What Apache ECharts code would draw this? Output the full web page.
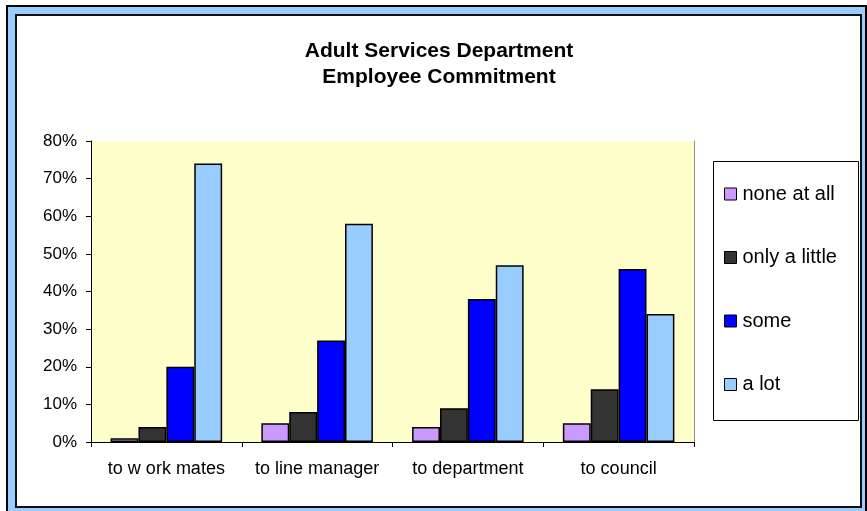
<!DOCTYPE html>
<html>
<head>
<meta charset="utf-8">
<title>Adult Services Department - Employee Commitment</title>
<script src="https://cdn.jsdelivr.net/npm/echarts@6/dist/echarts.min.js"></script>
<style>
  html, body { margin: 0; padding: 0; background: #ffffff; }
  #chart { width: 867px; height: 511px; }
</style>
</head>
<body>
<div id="chart"></div>
<script>
// Commitment categories along the x axis
const categories = ['to w ork mates', 'to line manager', 'to department', 'to council'];

// Share of employees per answer (fractions of 1)
const noneAtAll   = [0.01, 0.05, 0.04, 0.05];
const onlyALittle = [0.04, 0.08, 0.09, 0.14];
const some        = [0.20, 0.27, 0.38, 0.46];
const aLot        = [0.74, 0.58, 0.47, 0.34];

// Y axis ticks
const yMin = 0, yMax = 0.8, yStep = 0.1;

const seriesNames  = ['none at all', 'only a little', 'some', 'a lot'];
const seriesValues = [noneAtAll, onlyALittle, some, aLot];
const seriesColors = ['#CC99FF', '#333333', '#0000FF', '#99CCFF'];

const FONT = "'Liberation Sans', Arial, sans-serif";

const chart = echarts.init(document.getElementById('chart'), null, { renderer: 'canvas' });

chart.setOption({
  backgroundColor: '#ffffff',
  animation: false,
  title: {
    text: 'Adult Services Department\nEmployee Commitment',
    left: 434,
    top: 33,
    textAlign: 'center',
    textStyle: {
      fontFamily: FONT,
      fontSize: 21,
      fontWeight: 'bold',
      color: '#000000',
      lineHeight: 26
    }
  },
  graphic: [
    // blue frame around the chart
    {
      type: 'rect', z: -10, silent: true,
      shape: { x: 7, y: 6, width: 859, height: 520 },
      style: { fill: '#99CCFF', stroke: '#000000', lineWidth: 2 }
    },
    // white chart area
    {
      type: 'rect', z: -9, silent: true,
      shape: { x: 16, y: 15, width: 845, height: 492 },
      style: { fill: '#ffffff', stroke: '#111111', lineWidth: 2 }
    },
    // legend box
    {
      type: 'rect', z: -8, silent: true,
      shape: { x: 713.5, y: 161.5, width: 145, height: 259 },
      style: { fill: '#ffffff', stroke: '#000000', lineWidth: 1 }
    }
  ],
  legend: {
    orient: 'vertical',
    left: 713,
    top: 161,
    padding: [23, 8, 20, 11],
    itemGap: 43.5,
    itemWidth: 12,
    itemHeight: 12,
    icon: 'rect',
    data: seriesNames,
    itemStyle: { borderColor: '#000000', borderWidth: 1 },
    textStyle: {
      fontFamily: FONT,
      fontSize: 20,
      color: '#000000',
      padding: [0, 0, 0, 1],
      lineHeight: 20
    }
  },
  grid: {
    left: 91,
    top: 141,
    width: 603,
    height: 301,
    show: true,
    backgroundColor: '#FFFFCC',
    borderWidth: 0
  },
  xAxis: {
    type: 'category',
    data: categories,
    axisLine: { lineStyle: { color: '#000000', width: 1 } },
    axisTick: { show: true, interval: 0, length: 5, lineStyle: { color: '#000000' } },
    axisLabel: {
      interval: 0,
      fontFamily: FONT,
      fontSize: 18,
      color: '#000000',
      margin: 18
    },
    splitLine: { show: false }
  },
  yAxis: [
    {
      type: 'value',
      min: yMin,
      max: yMax,
      interval: yStep,
      axisLine: { show: true, lineStyle: { color: '#000000', width: 1 } },
      axisTick: { show: true, length: 5, lineStyle: { color: '#000000' } },
      axisLabel: {
        fontFamily: FONT,
        fontSize: 17,
        color: '#000000',
        margin: 14,
        formatter: v => Math.round(v * 100) + '%'
      },
      splitLine: { show: false }
    },
    {
      // right edge of the plot area
      type: 'value',
      position: 'right',
      min: yMin,
      max: yMax,
      interval: yStep,
      axisLine: { show: true, lineStyle: { color: '#8c8c8c', width: 1 } },
      axisTick: { show: false },
      axisLabel: { show: false },
      splitLine: { show: false }
    }
  ],
  series: seriesNames.map((name, i) => ({
    name: name,
    type: 'bar',
    yAxisIndex: 0,
    data: seriesValues[i],
    barGap: '0%',
    barCategoryGap: '26%',
    itemStyle: {
      color: seriesColors[i],
      borderColor: '#000000',
      borderWidth: 1.5
    }
  }))
});
</script>
</body>
</html>
